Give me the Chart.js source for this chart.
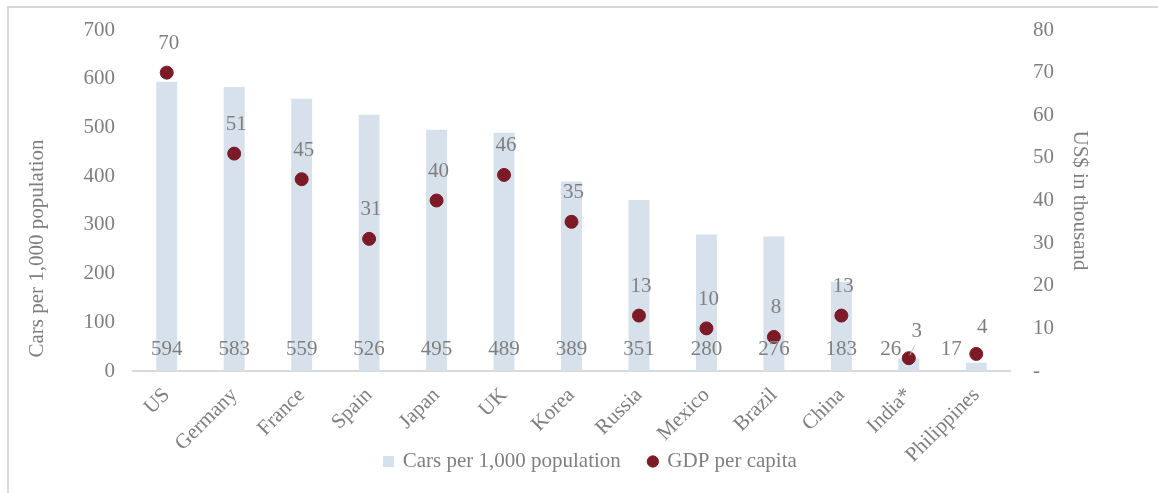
<!DOCTYPE html>
<html>
<head>
<meta charset="utf-8">
<script src="https://cdn.jsdelivr.net/npm/chart.js@4.4.1/dist/chart.umd.min.js"></script>
<style>
  html, body { margin: 0; padding: 0; background: #fff; overflow: hidden; }
  #frame { position: absolute; left: 7px; top: 6px; width: 1220px; height: 620px; border: 2px solid #d9d9d9; box-sizing: border-box; }
  #wrap { position: absolute; left: 0; top: 0; width: 1158px; height: 493px; }
</style>
</head>
<body>
<div id="frame"></div>
<div id="wrap"><canvas id="cars"></canvas></div>
<script>
// cars per 1,000 people vs GDP per capita (US$ thousand)
const countries = ['US', 'Germany', 'France', 'Spain', 'Japan', 'UK', 'Korea', 'Russia', 'Mexico', 'Brazil', 'China', 'India*', 'Philippines'];
const carsPer1000 = [594, 583, 559, 526, 495, 489, 389, 351, 280, 276, 183, 26, 17];
const gdpPerCapita = [70, 51, 45, 31, 40, 46, 35, 13, 10, 8, 13, 3, 4];
const carsTicks = [0, 100, 200, 300, 400, 500, 600, 700];
const gdpTicks = [0, 10, 20, 30, 40, 50, 60, 70, 80];
const carsAxisTitle = 'Cars per 1,000 population';
const gdpAxisTitle = 'US$ in thousand';

const GREY = '#7f7f7f';
const BAR = '#d6e1eb';
const DOT = '#7d1a28';
const FONT = '"Liberation Serif", "Times New Roman", serif';

Chart.defaults.font.family = FONT;
Chart.defaults.font.size = 21;
Chart.defaults.color = GREY;

// label nudges (a couple of labels were moved aside so they don't sit on the dots)
const barLabelShift = { 11: -18, 12: -25 };
const dotLabelShift = { 11: [8, -27], 12: [6, -26] };

// square legend swatch for the bars
const swatch = document.createElement('canvas');
swatch.width = 11; swatch.height = 11;
const sctx = swatch.getContext('2d');
sctx.fillStyle = BAR;
sctx.fillRect(0, 0, 11, 11);

const valueLabels = {
  id: 'valueLabels',
  afterDatasetsDraw(chart) {
    const { ctx, chartArea } = chart;
    const yScale = chart.scales.y;
    const bars = chart.getDatasetMeta(0).data;
    const dots = chart.getDatasetMeta(1).data;
    const base = yScale.getPixelForValue(0);
    ctx.save();
    ctx.font = '21px ' + FONT;
    ctx.fillStyle = GREY;
    ctx.textAlign = 'center';
    ctx.textBaseline = 'middle';
    bars.forEach((bar, i) => {
      ctx.fillText(String(carsPer1000[i]), bar.x + (barLabelShift[i] || 0), base - 22);
    });
    dots.forEach((pt, i) => {
      const [dx, dy] = dotLabelShift[i] || [2, -29];
      const lx = pt.x + dx, ly = pt.y + dy;
      ctx.fillText(String(gdpPerCapita[i]), lx, ly);
      if (i === 11) {
        // leader line back to the point
        ctx.strokeStyle = '#bfbfbf';
        ctx.lineWidth = 1;
        ctx.beginPath();
        ctx.moveTo(lx - 2, ly + 14);
        ctx.lineTo(pt.x + 1, pt.y - 3);
        ctx.stroke();
      }
    });
    // left axis title sits a bit below the middle of the plot
    ctx.translate(yScale.left + 16, (chartArea.top + chartArea.bottom) / 2 + 48);
    ctx.rotate(-Math.PI / 2);
    ctx.fillText(carsAxisTitle, 0, 0);
    ctx.restore();
  }
};

// let the rotated country names run below the axis box, and nudge the legend right
const layoutTweaks = {
  id: 'layoutTweaks',
  afterLayout(chart) {
    chart.scales.x.bottom = chart.height;
    if (chart.legend) {
      chart.legend.left += 32;
      chart.legend.right += 32;
    }
  }
};

new Chart(document.getElementById('cars'), {
  data: {
    labels: countries,
    datasets: [
      {
        type: 'bar',
        label: 'Cars per 1,000 population',
        data: carsPer1000,
        yAxisID: 'y',
        backgroundColor: BAR,
        barPercentage: 0.31,
        categoryPercentage: 1,
        pointStyle: swatch,
        order: 2
      },
      {
        type: 'line',
        label: 'GDP per capita',
        data: gdpPerCapita,
        yAxisID: 'y2',
        showLine: false,
        pointRadius: 6.5,
        pointHoverRadius: 6.5,
        pointBackgroundColor: DOT,
        pointBorderColor: DOT,
        backgroundColor: DOT,
        borderColor: DOT,
        pointStyle: 'circle',
        order: 1
      }
    ]
  },
  options: {
    responsive: true,
    maintainAspectRatio: false,
    animation: false,
    layout: { padding: { left: 21, right: 62, top: 30, bottom: 11 } },
    plugins: {
      tooltip: { enabled: false },
      legend: {
        position: 'bottom',
        labels: {
          usePointStyle: true,
          boxHeight: 8,
          boxWidth: 8,
          padding: 28,
          color: GREY,
          font: { family: FONT, size: 21 },
          sort: (a, b) => a.datasetIndex - b.datasetIndex
        }
      }
    },
    scales: {
      x: {
        grid: { display: false, drawTicks: false },
        border: { color: '#d9d9d9', width: 2 },
        ticks: {
          color: GREY,
          font: { family: FONT, size: 21 },
          minRotation: 45,
          maxRotation: 45,
          padding: 12,
          autoSkip: false
        },
        afterFit(scale) { scale.height = 52; }
      },
      y: {
        position: 'left',
        min: carsTicks[0],
        max: carsTicks[carsTicks.length - 1],
        afterBuildTicks(scale) { scale.ticks = carsTicks.map(v => ({ value: v })); },
        grid: { display: false, drawTicks: true, tickLength: 10 },
        border: { display: false },
        ticks: { color: GREY, font: { family: FONT, size: 21 }, padding: 8 },
        afterFit(scale) { scale.width = 112; }
      },
      y2: {
        position: 'right',
        min: gdpTicks[0],
        max: gdpTicks[gdpTicks.length - 1],
        afterBuildTicks(scale) { scale.ticks = gdpTicks.map(v => ({ value: v })); },
        grid: { display: false, drawTicks: true, tickLength: 15 },
        border: { display: false },
        ticks: {
          color: GREY,
          font: { family: FONT, size: 21 },
          padding: 8,
          callback: v => (v === 0 ? '-' : v)
        },
        title: {
          display: true,
          text: gdpAxisTitle,
          color: GREY,
          font: { family: FONT, size: 21 },
          padding: { top: 4, bottom: 4 }
        },
        afterFit(scale) { scale.width = 86; }
      }
    }
  },
  plugins: [valueLabels, layoutTweaks]
});
</script>
</body>
</html>
